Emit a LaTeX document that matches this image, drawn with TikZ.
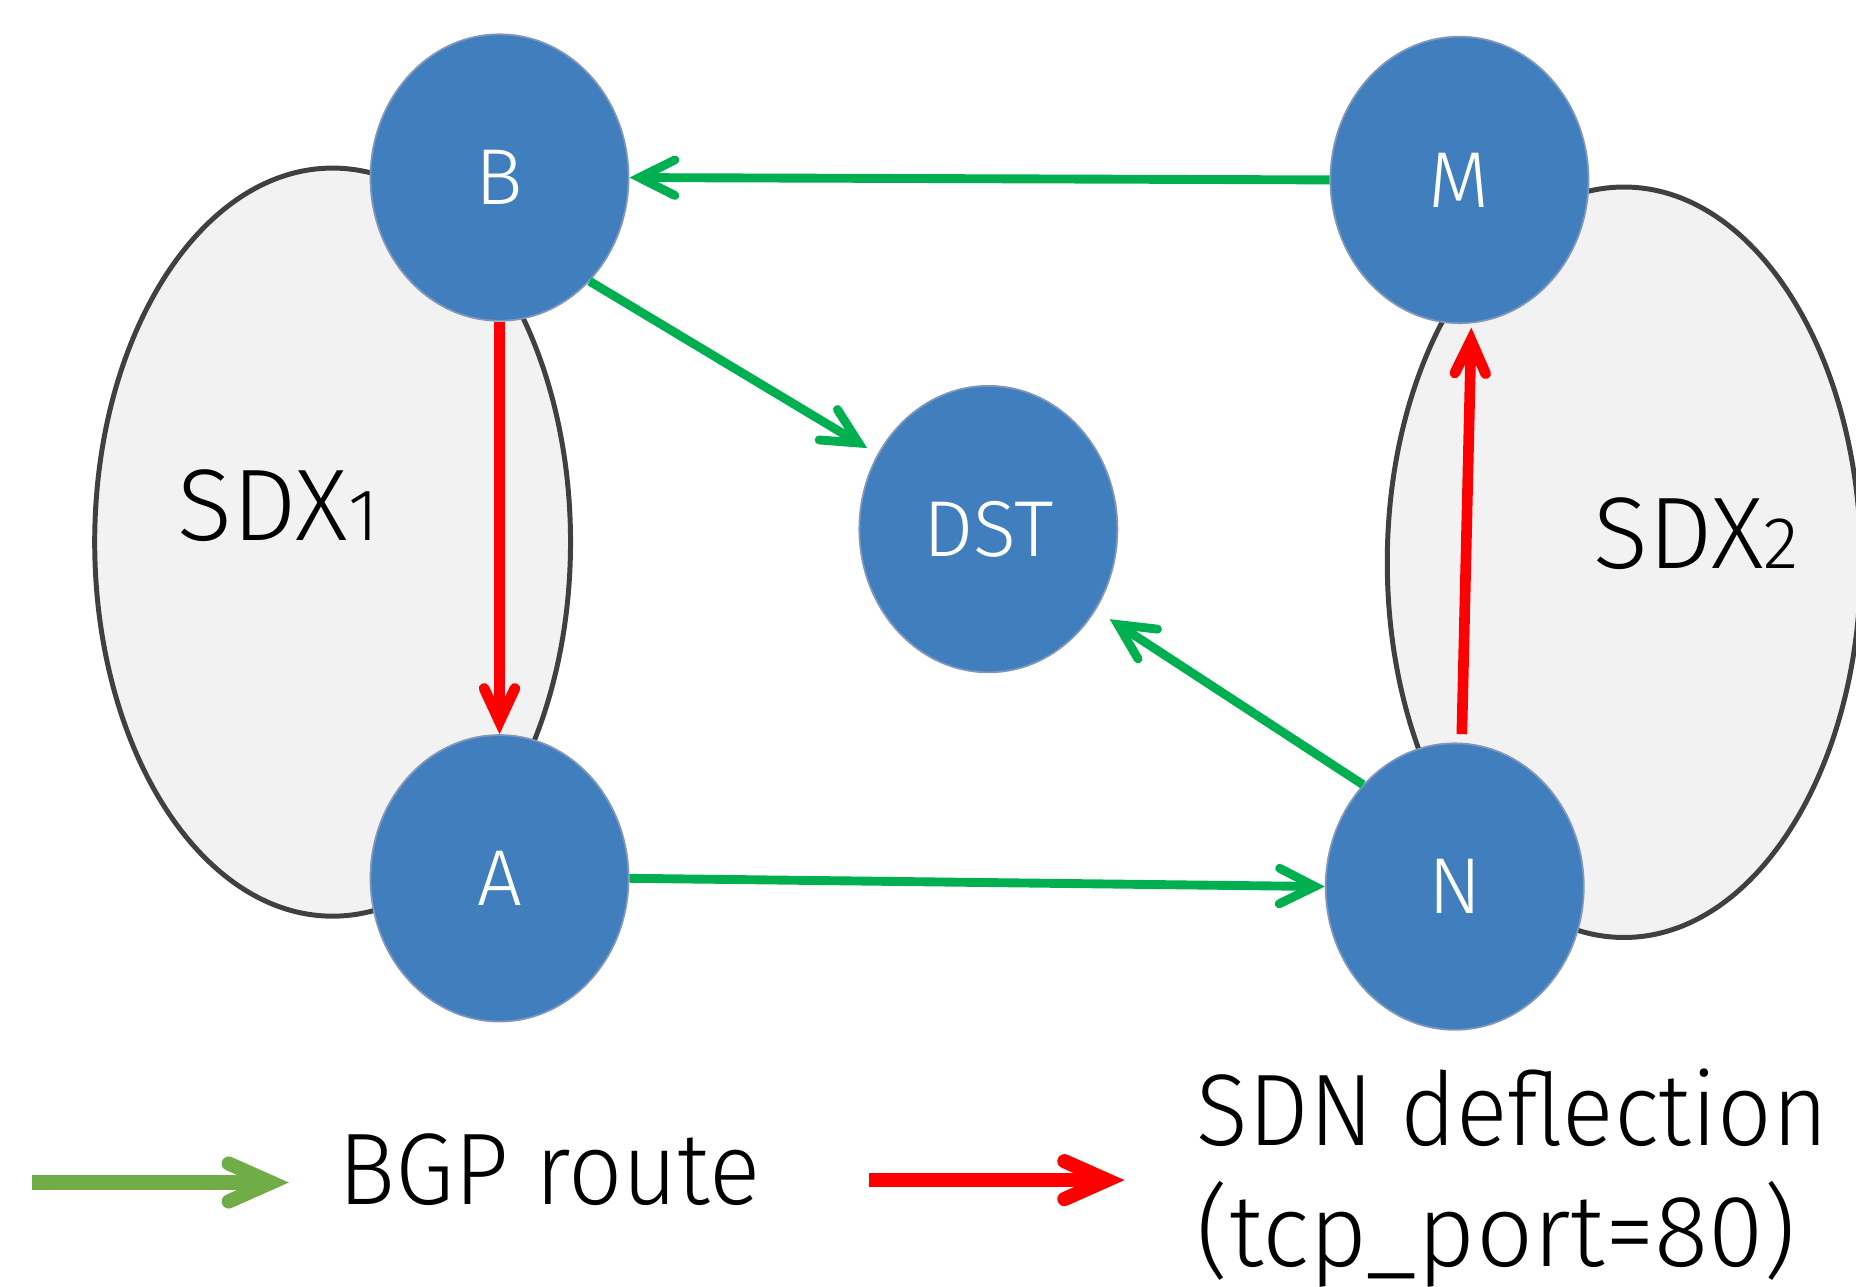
\documentclass[tikz,border=0pt]{standalone}
\usepackage{fontspec}
\usepackage{graphicx}
\setmainfont{Fira Sans Light}
\usetikzlibrary{shapes.geometric,arrows.meta}
\definecolor{nodeblue}{HTML}{407EBD}
\definecolor{nodeedge}{HTML}{7F97BC}
\definecolor{areafill}{HTML}{F2F2F2}
\definecolor{areaedge}{HTML}{404040}
\definecolor{bgpgreen}{HTML}{00B050}
\definecolor{keygreen}{HTML}{70AD47}
\definecolor{sdnred}{HTML}{FF0000}
\begin{document}
\begin{tikzpicture}[x=1pt,y=-1pt,
  router/.style={ellipse, fill=nodeblue, draw=nodeedge, line width=1.5pt,
    minimum width=218pt, minimum height=242pt, inner sep=0pt, text=white,
    font=\fontsize{67}{80}\selectfont},
  sdxarea/.style={ellipse, fill=areafill, draw=areaedge, line width=4.2pt, inner sep=0pt},
  bgp/.style={draw=bgpgreen, line width=7.5pt,
    -{Straight Barb[length=30pt,width=30pt,line cap=round]}},
  sdn/.style={draw=sdnred, line width=9pt,
    -{Straight Barb[length=28pt,width=26pt,line cap=round]}},
  keyarrow/.style={line width=12pt,
    -{Straight Barb[length=36pt,width=32pt,line cap=round]}},
  captext/.style={font=\fontsize{86}{100}\selectfont, inner sep=0pt, anchor=base west}
]
\useasboundingbox (0,0) rectangle (1568,1087);

% exchange areas
\node[sdxarea, minimum width=402pt, minimum height=632pt] (sdx1) at (281,458) {};
\node[sdxarea, minimum width=400pt, minimum height=634pt] (sdx2) at (1372,475) {};
\node[captext] (sdx1label) at (150,457) {SDX{\fontsize{62}{70}\selectfont 1}};
\node[captext] (sdx2label) at (1346,480) {SDX{\fontsize{62}{70}\selectfont 2}};

% routers
\node[router] (B) at (422,150) {B};
\node[router] (A) at (422,742) {A};
\node[router] (M) at (1233,152) {M};
\node[router] (N) at (1229,749) {N};
\node[router] (DST) at (835,447) {DST};

% BGP routes
\draw[bgp] (M.west) -- (B.east);
\draw[bgp, shorten >=10pt] (B.-49) -- (DST.146);
\draw[bgp, shorten >=14pt] (N.132) -- (DST.-37);
\draw[bgp] (A.east) -- (N.west);

% SDN deflections
\draw[sdn] (B.south) -- (A.north);
\draw[sdn] ([xshift=6pt,yshift=7pt]N.north) -- ([xshift=10pt,yshift=-3pt]M.south);

% legend
\coordinate (g0) at (27,999);
\coordinate (g1) at (244,999);
\coordinate (r0) at (734,997);
\coordinate (r1) at (950,997);
\draw[keyarrow, draw=keygreen] (g0) -- (g1);
\draw[keyarrow, draw=sdnred] (r0) -- (r1);
\node[captext] (bgplabel) at (286,1018) {\resizebox{356pt}{\height}{BGP route}};
\node[captext] (sdnlabel) at (1011,968) {\resizebox{533pt}{\height}{SDN deflection}};
\node[captext] (portlabel) at (1011,1070) {\resizebox{506pt}{\height}{(tcp\_port=80)}};
\end{tikzpicture}
\end{document}
